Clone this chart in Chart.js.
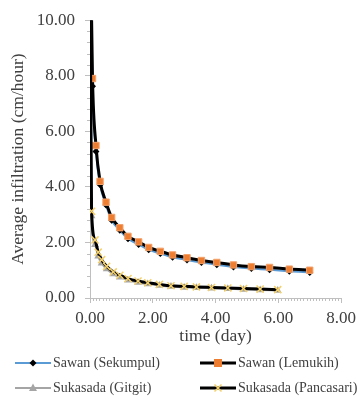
<!DOCTYPE html>
<html>
<head>
<meta charset="utf-8">
<script src="https://cdn.jsdelivr.net/npm/chart.js@4/dist/chart.umd.min.js"></script>
<style>
  body { margin: 0; background: #fff; }
  #wrap { position: relative; width: 361px; height: 398px; }
  #legend { position: absolute; left: 0; top: 350px; width: 361px; font-family: "Liberation Serif", "Times New Roman", serif; font-size: 14px; color: #404040; }
  .item { position: absolute; display: flex; align-items: center; height: 16px; white-space: nowrap; }
  .item svg { margin-right: 2px; flex-shrink: 0; }
</style>
</head>
<body>
<div id="wrap">
  <canvas id="chart" width="361" height="398"></canvas>
  <div id="legend"></div>
</div>
<script>
// time in days, infiltration in cm/hour (first point is off the top of the axis)
const timeSawan = [0, 0.08, 0.19, 0.32, 0.51, 0.69, 0.95, 1.21, 1.55, 1.87, 2.24, 2.63, 3.09, 3.55, 4.04, 4.57, 5.14, 5.72, 6.35, 7.0];
const sekumpul  = [14, 7.62, 5.27, 4.08, 3.35, 2.8, 2.44, 2.13, 1.93, 1.74, 1.6, 1.47, 1.37, 1.28, 1.2, 1.12, 1.06, 1.02, 0.96, 0.92];
const lemukih   = [14, 7.9, 5.49, 4.2, 3.45, 2.9, 2.53, 2.22, 2.02, 1.82, 1.68, 1.55, 1.45, 1.35, 1.28, 1.19, 1.13, 1.1, 1.04, 1.0];

const timeSukasada = [0, 0.05, 0.16, 0.26, 0.37, 0.53, 0.74, 0.95, 1.21, 1.53, 1.84, 2.21, 2.58, 3.0, 3.39, 3.87, 4.39, 4.89, 5.42, 5.98];
const gitgit    = [12, 2.95, 1.92, 1.5, 1.25, 1.04, 0.86, 0.75, 0.64, 0.56, 0.5, 0.45, 0.41, 0.38, 0.37, 0.35, 0.33, 0.31, 0.29, 0.27];
const pancasari = [12, 3.12, 2.09, 1.65, 1.38, 1.14, 0.94, 0.82, 0.7, 0.61, 0.55, 0.49, 0.44, 0.42, 0.4, 0.38, 0.36, 0.34, 0.32, 0.3];

const seriesNames = ['Sawan (Sekumpul)', 'Sawan (Lemukih)', 'Sukasada (Gitgit)', 'Sukasada (Pancasari)'];

const FONT = '"Liberation Serif", "Times New Roman", serif';
const TEXT = '#404040';
const AXIS = '#bfbfbf';

function pts(xs, ys) {
    return xs.map((x, i) => ({ x: x, y: ys[i] }));
}

// small ticks between the labelled ones, like the spreadsheet axes
const minorTicks = {
    id: 'minorTicks',
    afterDraw(chart) {
        const ctx = chart.ctx;
        const xs = chart.scales.x, ys = chart.scales.y;
        const bottom = chart.chartArea.bottom, left = chart.chartArea.left;
        ctx.save();
        ctx.strokeStyle = AXIS;
        ctx.lineWidth = 1;
        ctx.beginPath();
        for (let i = 1; i < 80; i++) {
            if (i % 20 === 0) continue;
            const px = Math.round(xs.getPixelForValue(i / 10)) + 0.5;
            ctx.moveTo(px, bottom);
            ctx.lineTo(px, bottom + 3);
        }
        for (let i = 1; i < 25; i++) {
            if (i % 5 === 0) continue;
            const py = Math.round(ys.getPixelForValue(i * 0.4)) + 0.5;
            ctx.moveTo(left, py);
            ctx.lineTo(left - 3, py);
        }
        ctx.stroke();
        ctx.restore();
    }
};

const ctx = document.getElementById('chart').getContext('2d');
const chart = new Chart(ctx, {
    type: 'line',
    data: {
        datasets: [{
            label: seriesNames[0],
            data: pts(timeSawan, sekumpul),
            borderColor: '#5b9bd5',
            borderWidth: 2,
            pointStyle: 'rectRot',
            pointRadius: 3.5,
            pointBackgroundColor: '#000',
            pointBorderColor: '#000',
            pointBorderWidth: 0,
            order: 4
        }, {
            label: seriesNames[1],
            data: pts(timeSawan, lemukih),
            borderColor: '#000',
            borderWidth: 3,
            pointStyle: 'rect',
            pointRadius: 4.5,
            pointBackgroundColor: '#ed7d31',
            pointBorderColor: '#f4a26b',
            pointBorderWidth: 1,
            order: 3
        }, {
            label: seriesNames[2],
            data: pts(timeSukasada, gitgit),
            borderColor: '#a5a5a5',
            borderWidth: 2,
            pointStyle: 'triangle',
            pointRadius: 4.5,
            pointBackgroundColor: '#a5a5a5',
            pointBorderColor: '#a5a5a5',
            pointBorderWidth: 0,
            order: 2
        }, {
            label: seriesNames[3],
            data: pts(timeSukasada, pancasari),
            borderColor: '#000',
            borderWidth: 3,
            pointStyle: 'crossRot',
            pointRadius: 5,
            pointBorderColor: '#f5d16b',
            pointBorderWidth: 1.5,
            order: 1
        }]
    },
    options: {
        responsive: false,
        animation: false,
        cubicInterpolationMode: 'monotone',
        layout: { padding: { top: 15, right: 18, bottom: 51, left: 0 } },
        plugins: { legend: { display: false }, tooltip: { enabled: false } },
        elements: { line: { tension: 0 } },
        scales: {
            x: {
                type: 'linear',
                min: 0,
                max: 8,
                ticks: {
                    stepSize: 2,
                    padding: 5,
                    color: TEXT,
                    font: { family: FONT, size: 17 },
                    callback: v => v.toFixed(2)
                },
                grid: { drawOnChartArea: false, color: AXIS, tickLength: 5 },
                border: { color: AXIS },
                title: {
                    display: true,
                    text: 'time (day)',
                    color: TEXT,
                    font: { family: FONT, size: 17.5 },
                    padding: { top: 0, bottom: 0 }
                },
                afterFit(scale) { scale.height = 49; }
            },
            y: {
                min: 0,
                max: 10,
                ticks: {
                    stepSize: 2,
                    padding: 10,
                    color: TEXT,
                    font: { family: FONT, size: 17 },
                    callback: v => v.toFixed(2)
                },
                grid: { drawOnChartArea: false, color: AXIS, tickLength: 5 },
                border: { color: AXIS },
                title: {
                    display: true,
                    text: 'Average infiltration (cm/hour)',
                    color: TEXT,
                    font: { family: FONT, size: 17.5 },
                    padding: { top: 8, bottom: 0 }
                },
                afterFit(scale) { scale.width = 90; }
            }
        }
    },
    plugins: [minorTicks]
});

// legend: line with marker, two columns
const icons = [
    '<line x1="0" y1="6" x2="36" y2="6" stroke="#5b9bd5" stroke-width="2"/><path d="M18 2.5 L21.5 6 L18 9.5 L14.5 6 Z" fill="#000"/>',
    '<line x1="0" y1="6" x2="36" y2="6" stroke="#000" stroke-width="3"/><rect x="14" y="2" width="8" height="8" fill="#ed7d31"/>',
    '<line x1="0" y1="6" x2="36" y2="6" stroke="#a5a5a5" stroke-width="2"/><path d="M18 1.5 L22 9 L14 9 Z" fill="#a5a5a5"/>',
    '<line x1="0" y1="6" x2="36" y2="6" stroke="#000" stroke-width="3"/><path d="M14.5 2.5 L21.5 9.5 M21.5 2.5 L14.5 9.5" stroke="#f5d16b" stroke-width="1.5"/>'
];
const legendPos = [[15, 5], [200, 5], [15, 30], [200, 30]];
const legend = document.getElementById('legend');
seriesNames.forEach((name, i) => {
    const el = document.createElement('div');
    el.className = 'item';
    el.style.left = legendPos[i][0] + 'px';
    el.style.top = legendPos[i][1] + 'px';
    el.innerHTML = '<svg width="36" height="12">' + icons[i] + '</svg><span>' + name + '</span>';
    legend.appendChild(el);
});
</script>
</body>
</html>
